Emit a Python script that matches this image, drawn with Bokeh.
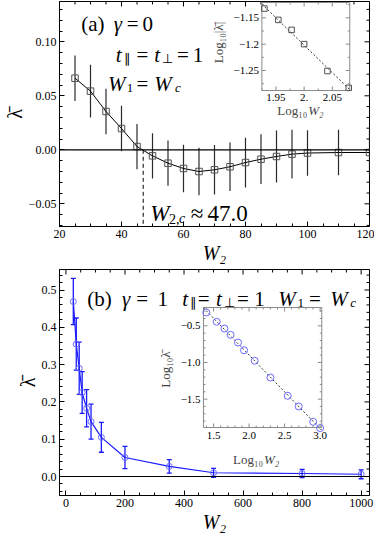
import numpy as np
from bokeh.plotting import figure
from bokeh.models import (Range1d, FixedTicker, CustomJSTickFormatter,
                          Label, Span, Whisker, TeeHead, ColumnDataSource)
from bokeh.layouts import column
from bokeh.embed import file_html
from bokeh.resources import INLINE
from bokeh.core.properties import value

SERIF = "Liberation Serif"
BLUE = "#1a1aff"
LBLUE = "#6a6aff"

# ---------------- data: panel (a) ----------------
w2_a = [25, 30, 35, 40, 45, 50, 55, 60, 65, 70, 75, 80, 85, 90, 95, 100, 110, 120]
lam_a = [0.0663, 0.0543, 0.0355, 0.0197, 0.0030, -0.0056, -0.0124, -0.0173, -0.0201,
         -0.0185, -0.0157, -0.0118, -0.0087, -0.0062, -0.0040, -0.0030, -0.0025, -0.0025]
err_a = [0.021, 0.0245, 0.021, 0.021, 0.021, 0.021, 0.021, 0.022, 0.022,
         0.023, 0.0225, 0.023, 0.023, 0.024, 0.0226, 0.021, 0.021, 0.021]
w2c_a = 47.0
inset_a_w2 = [85, 90, 95, 100, 110, 120]
inset_a_loglam = [-1.1325, -1.154, -1.173, -1.200, -1.251, -1.283]

xticks_a = [20, 40, 60, 80, 100, 120]
xminor_a = [25, 30, 35, 45, 50, 55, 65, 70, 75, 85, 90, 95, 105, 110, 115]
yticks_a = [-0.05, 0.0, 0.05, 0.10]
yminor_a = [-0.07, -0.06, -0.04, -0.03, -0.02, -0.01, 0.01, 0.02, 0.03, 0.04,
            0.06, 0.07, 0.08, 0.09, 0.11, 0.12, 0.13]
inset_a_xticks = [1.95, 2.0, 2.05]
inset_a_xminor = [1.925, 1.975, 2.025, 2.075]
inset_a_xlabels = ["1.95", "2.", "2.05"]
inset_a_yticks = [-1.25, -1.2, -1.15]
inset_a_yminor = [-1.275, -1.225, -1.175, -1.125]
inset_a_ylabels = ["\u22121.25", "\u22121.2", "\u22121.15"]

# ---------------- data: panel (b) ----------------
w2_b = [25, 35, 45, 55, 70, 85, 120, 200, 350, 500, 800, 1000]
lam_b = [0.469, 0.355, 0.290, 0.225, 0.183, 0.147, 0.105, 0.051, 0.027, 0.010, 0.008, 0.006]
err_b = [0.062, 0.070, 0.070, 0.056, 0.050, 0.047, 0.040, 0.030, 0.018, 0.012, 0.011, 0.012]
inset_b_loglam = [-0.318, -0.445, -0.537, -0.623, -0.728, -0.833, -0.977,
                  -1.205, -1.455, -1.600, -1.810, -1.895]

xticks_b = [0, 200, 400, 600, 800, 1000]
xminor_b = [v for v in range(50, 1001, 50) if v % 200 != 0]
yticks_b = [0.0, 0.1, 0.2, 0.3, 0.4, 0.5]
yminor_b = [-0.04, -0.02, 0.02, 0.04, 0.06, 0.08, 0.12, 0.14, 0.16, 0.18, 0.22, 0.24,
            0.26, 0.28, 0.32, 0.34, 0.36, 0.38, 0.42, 0.44, 0.46, 0.48, 0.52, 0.54]
inset_b_xticks = [1.5, 2.0, 2.5, 3.0]
inset_b_xminor = [1.4, 1.6, 1.7, 1.8, 1.9, 2.1, 2.2, 2.3, 2.4, 2.6, 2.7, 2.8, 2.9]
inset_b_xlabels = ["1.5", "2.0", "2.5", "3.0"]
inset_b_yticks = [-1.5, -1.0, -0.5]
inset_b_yminor = [-1.8, -1.7, -1.6, -1.4, -1.3, -1.2, -1.1, -0.9, -0.8, -0.7, -0.6, -0.4, -0.3]
inset_b_ylabels = ["\u22121.5", "\u22121.0", "\u22120.5"]


# ---------------- helpers ----------------
class Frame:
    """page-pixel box of a plot frame and its data range"""
    def __init__(self, px0, px1, py0, py1, x0, x1, y0, y1):
        self.px0, self.px1, self.py0, self.py1 = px0, px1, py0, py1
        self.x0, self.x1, self.y0, self.y1 = x0, x1, y0, y1

    def x(self, px):
        return self.x0 + (px - self.px0) * (self.x1 - self.x0) / (self.px1 - self.px0)

    def y(self, py):
        return self.y1 - (py - self.py0) * (self.y1 - self.y0) / (self.py1 - self.py0)


def inset_ranges(fr, box, xb, yb):
    bx0, bx1, by0, by1 = box
    sx = (bx1 - bx0) / (xb[1] - xb[0])
    sy = (by1 - by0) / (yb[1] - yb[0])
    xr = Range1d(xb[0] - (bx0 - fr.px0) / sx, xb[1] + (fr.px1 - bx1) / sx)
    yr = Range1d(yb[0] - (fr.py1 - by1) / sy, yb[1] + (by0 - fr.py0) / sy)
    return xr, yr, sx, sy


def style_axis(ax, ticks, minor, fmt):
    ax.ticker = FixedTicker(ticks=ticks, minor_ticks=minor)
    ax.axis_line_color = "black"
    ax.major_tick_in = 5
    ax.major_tick_out = 0
    ax.minor_tick_in = 3
    ax.minor_tick_out = 0
    ax.major_tick_line_color = "black"
    ax.minor_tick_line_color = "black"
    ax.major_label_text_font = SERIF
    ax.major_label_text_color = "black"
    ax.major_label_text_font_size = "12px"
    ax.major_label_standoff = 3
    ax.formatter = fmt


def frame_ticks(p, xb, yb, xmaj, xmin, ymaj, ymin, color, lmaj, lmin, rname=None):
    """inward ticks on the top and right edges (or all four edges of an inset box)"""
    kw = dict(line_color=color, line_width=1, length_units="screen", angle_units="deg")
    if rname:
        kw.update(x_range_name=rname[0], y_range_name=rname[1])
    for vals, L in ((xmaj, lmaj), (xmin, lmin)):
        p.ray(x=vals, y=[yb[1]] * len(vals), length=L, angle=-90, **kw)
        if rname:
            p.ray(x=vals, y=[yb[0]] * len(vals), length=L, angle=90, **kw)
    for vals, L in ((ymaj, lmaj), (ymin, lmin)):
        p.ray(x=[xb[1]] * len(vals), y=vals, length=L, angle=180, **kw)
        if rname:
            p.ray(x=[xb[0]] * len(vals), y=vals, length=L, angle=0, **kw)


def add_texts(p, fr, base_py, parts):
    for px, txt, size, italic, dy in parts:
        p.add_layout(Label(x=fr.x(px), y=fr.y(base_py + dy), text=txt,
                           text_font=SERIF, text_font_size=f"{size}px",
                           text_font_style="italic" if italic else "normal",
                           text_align="left", text_baseline="alphabetic",
                           text_color="black"))


def make_fig(fr, height, mb):
    p = figure(width=374, height=height, output_backend="svg", toolbar_location=None,
               x_range=Range1d(fr.x0, fr.x1), y_range=Range1d(fr.y0, fr.y1),
               min_border_left=mb[0], min_border_right=mb[1],
               min_border_top=mb[2], min_border_bottom=mb[3])
    p.xgrid.visible = False
    p.ygrid.visible = False
    p.outline_line_color = "black"
    p.outline_line_width = 1
    p.background_fill_color = "white"
    p.border_fill_color = "white"
    return p


def axis_labels(p, xl, yl):
    bx = p.below[0]
    bx.axis_label = xl
    bx.axis_label_text_font = SERIF
    bx.axis_label_text_font_style = "italic"
    bx.axis_label_text_font_size = "20px"
    bx.axis_label_standoff = 1
    bx.axis_label_text_color = "black"
    ly = p.left[0]
    ly.axis_label = yl
    ly.axis_label_text_font = SERIF
    ly.axis_label_text_font_style = "normal"
    ly.axis_label_text_font_size = "20px"
    ly.axis_label_standoff = 0
    ly.axis_label_text_color = "black"


# ================= panel (a) =================
FA = Frame(63, 377, 9, 234, 20, 120, (157.3 - 234) / 1080, (157.3 - 9) / 1080)
pa = make_fig(FA, 268, (55, 5, 1, 42))

style_axis(pa.below[0], xticks_a, xminor_a, CustomJSTickFormatter(code="return tick.toFixed(0);"))
style_axis(pa.left[0], yticks_a, yminor_a,
           CustomJSTickFormatter(code="return tick.toFixed(2).replace('-', '\u2212');"))
frame_ticks(pa, (FA.x0, FA.x1), (FA.y0, FA.y1), xticks_a, xminor_a, yticks_a, yminor_a,
            "black", 5, 3)
axis_labels(pa, "W\u2082", "\u03bb\u0304")

pa.add_layout(Span(location=0, dimension="width", line_color="black", line_width=1.2))
pa.segment(x0=[w2c_a], y0=[0], x1=[w2c_a], y1=[FA.y0], line_color="black",
           line_width=1, line_dash="4 3")

lo_a = [v - e for v, e in zip(lam_a, err_a)]
hi_a = [v + e for v, e in zip(lam_a, err_a)]
pa.segment(x0=w2_a, y0=lo_a, x1=w2_a, y1=hi_a, line_color="#2a2a2a", line_width=1.2)
pa.line(w2_a, lam_a, line_color="black", line_width=1)
pa.scatter(w2_a, lam_a, marker="square", size=6.5, fill_color=None, line_color="#505050",
           line_width=1)

add_texts(pa, FA, 31, [(85, "(a)", 21, False, 0), (118, "\u03b3", 21, True, 0),
                       (131, "=", 21, False, 0), (147, "0", 21, False, 0)])
add_texts(pa, FA, 62, [(120, "t", 21, True, 0), (128, "\u2225", 13, False, 4),
                       (141, "=", 21, False, 0), (159, "t", 21, True, 0),
                       (167, "\u22a5", 13, False, 4), (182, "=", 21, False, 0),
                       (198, "1", 21, False, 0)])
add_texts(pa, FA, 91, [(112, "W", 21, True, 0), (131, "1", 13, False, 4),
                       (141, "=", 21, False, 0), (159, "W", 21, True, 0),
                       (180, "c", 13, True, 4)])
add_texts(pa, FA, 221, [(155, "W", 23, True, 0), (174, "2,", 14, False, 5),
                        (184, "c", 14, True, 5), (196, "\u2248", 23, False, 0),
                        (213, "47.0", 23, False, 0)])

# inset (a)
IAX = (1.925, 2.081)
IAY = (-1.288, -1.121)
xr, yr, sxa, sya = inset_ranges(FA, (268, 357, 10, 98), IAX, IAY)
pa.extra_x_ranges = {"ix": xr}
pa.extra_y_ranges = {"iy": yr}
pa.quad(left=[IAX[0]], right=[IAX[1]], bottom=[IAY[0]], top=[IAY[1]], fill_color="white",
        line_color="#8a8a8a", line_width=1, x_range_name="ix", y_range_name="iy")
ia_logw = np.log10(inset_a_w2)
coef_a = np.polyfit(ia_logw, inset_a_loglam, 1)
pa.line(list(IAX), list(np.polyval(coef_a, IAX)), line_color="black", line_width=0.8,
        line_dash="2 2", x_range_name="ix", y_range_name="iy")
pa.scatter(ia_logw, inset_a_loglam, marker="square", size=5.5, fill_color=None,
           line_color="#505050", x_range_name="ix", y_range_name="iy")
frame_ticks(pa, IAX, IAY, inset_a_xticks, inset_a_xminor, inset_a_yticks, inset_a_yminor,
            "#8a8a8a", 4, 2, rname=("ix", "iy"))
pa.text(x=inset_a_xticks, y=[IAY[0] - 3 / sya] * 3, text=inset_a_xlabels,
        text_align="center", text_baseline="top", text_font=value(SERIF),
        text_font_size="11px", text_color="black", x_range_name="ix", y_range_name="iy")
pa.text(x=[IAX[0] - 3 / sxa] * 3, y=inset_a_yticks, text=inset_a_ylabels,
        text_align="right", text_baseline="middle", text_font=value(SERIF),
        text_font_size="11px", text_color="black", x_range_name="ix", y_range_name="iy")
pa.add_layout(Label(x=FA.x(314), y=FA.y(118), text="Log\u2081\u2080", text_font=SERIF,
                    text_font_size="13px", text_align="right", text_baseline="middle"))
pa.add_layout(Label(x=FA.x(315), y=FA.y(118), text="W\u2082", text_font=SERIF,
                    text_font_style="italic", text_font_size="13px", text_align="left",
                    text_baseline="middle"))
pa.add_layout(Label(x=FA.x(224), y=FA.y(50), text="Log\u2081\u2080|\u03bb\u0304|",
                    text_font=SERIF, text_font_size="13px", angle=90, angle_units="deg",
                    text_align="center", text_baseline="middle"))

# ================= panel (b) =================
FB = Frame(54, 377, 277, 503, (54 - 60.7) / 0.3076, (377 - 60.7) / 0.3076,
           (484 - 503) / 373, (484 - 277) / 373)
pb = make_fig(FB, 268, (46, 5, 1, 41))
style_axis(pb.below[0], xticks_b, xminor_b, CustomJSTickFormatter(code="return tick.toFixed(0);"))
style_axis(pb.left[0], yticks_b, yminor_b, CustomJSTickFormatter(code="return tick.toFixed(1);"))
frame_ticks(pb, (FB.x0, FB.x1), (FB.y0, FB.y1), xticks_b, xminor_b, yticks_b, yminor_b,
            "black", 5, 3)
axis_labels(pb, "W\u2082", "\u03bb\u0304")

pb.add_layout(Span(location=0, dimension="width", line_color="black", line_width=1.2))
src_b = ColumnDataSource(dict(x=w2_b,
                              lower=[v - e for v, e in zip(lam_b, err_b)],
                              upper=[v + e for v, e in zip(lam_b, err_b)]))
pb.add_layout(Whisker(source=src_b, base="x", lower="lower", upper="upper",
                      dimension="height", line_color=BLUE, line_width=1.3,
                      upper_head=TeeHead(size=5, line_color=BLUE, line_width=1.3),
                      lower_head=TeeHead(size=5, line_color=BLUE, line_width=1.3)))
pb.line(w2_b, lam_b, line_color=BLUE, line_width=1.2)
pb.scatter(w2_b, lam_b, marker="circle", size=6, fill_color=None, line_color=LBLUE,
           line_width=1)

add_texts(pb, FB, 306, [(83, "(b)", 21, False, 0), (119, "\u03b3", 21, True, 0),
                        (134, "=", 21, False, 0), (156, "1", 21, False, 0),
                        (182, "t", 21, True, 0), (190, "\u2225", 13, False, 4),
                        (198, "=", 21, False, 0), (217, "t", 21, True, 0),
                        (225, "\u22a5", 13, False, 4), (239, "=", 21, False, 0),
                        (257, "1", 21, False, 0), (282, "W", 21, True, 0),
                        (302, "1", 13, False, 4), (314, "=", 21, False, 0),
                        (336, "W", 21, True, 0), (357, "c", 13, True, 4)])

# inset (b)
IBX = (1.358, 3.024)
IBY = (-1.887, -0.25)
xr, yr, sxb, syb = inset_ranges(FB, (204, 327.3, 315, 435), IBX, IBY)
pb.extra_x_ranges = {"ix": xr}
pb.extra_y_ranges = {"iy": yr}
pb.quad(left=[IBX[0]], right=[IBX[1]], bottom=[IBY[0]], top=[IBY[1]], fill_color="white",
        line_color="#8a8a8a", line_width=1, x_range_name="ix", y_range_name="iy")
ib_logw = np.log10(w2_b)
coef_b = np.polyfit(ib_logw, inset_b_loglam, 1)
pb.line(list(IBX), list(np.polyval(coef_b, IBX)), line_color="black", line_width=0.8,
        line_dash="2 2", x_range_name="ix", y_range_name="iy")
pb.scatter(ib_logw, inset_b_loglam, marker="circle", size=7, fill_color=None,
           line_color=LBLUE, x_range_name="ix", y_range_name="iy")
frame_ticks(pb, IBX, IBY, inset_b_xticks, inset_b_xminor, inset_b_yticks, inset_b_yminor,
            "#8a8a8a", 4, 2, rname=("ix", "iy"))
pb.text(x=inset_b_xticks, y=[IBY[0] - 4 / syb] * 4, text=inset_b_xlabels,
        text_align="center", text_baseline="top", text_font=value(SERIF),
        text_font_size="11px", text_color="black", x_range_name="ix", y_range_name="iy")
pb.text(x=[IBX[0] - 3 / sxb] * 3, y=inset_b_yticks, text=inset_b_ylabels,
        text_align="right", text_baseline="middle", text_font=value(SERIF),
        text_font_size="11px", text_color="black", x_range_name="ix", y_range_name="iy")
pb.add_layout(Label(x=FB.x(266), y=FB.y(467), text="Log\u2081\u2080", text_font=SERIF,
                    text_font_size="13px", text_align="right", text_baseline="middle"))
pb.add_layout(Label(x=FB.x(267), y=FB.y(467), text="W\u2082", text_font=SERIF,
                    text_font_style="italic", text_font_size="13px", text_align="left",
                    text_baseline="middle"))
pb.add_layout(Label(x=FB.x(164), y=FB.y(377), text="Log\u2081\u2080\u03bb\u0304",
                    text_font=SERIF, text_font_size="13px", angle=90, angle_units="deg",
                    text_align="center", text_baseline="middle"))

layout = column(pa, pb, spacing=0)
open("out.html", "w").write(file_html(layout, INLINE))
